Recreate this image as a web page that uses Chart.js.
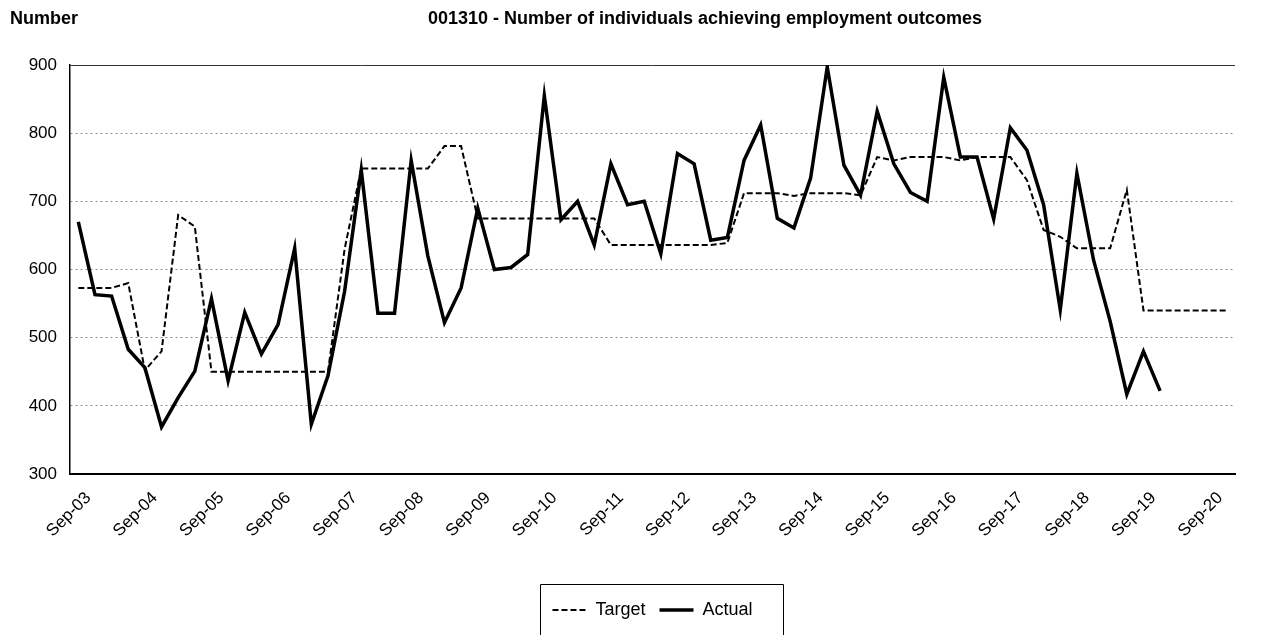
<!DOCTYPE html>
<html>
<head>
<meta charset="utf-8">
<title>001310 - Number of individuals achieving employment outcomes</title>
<script src="https://cdn.jsdelivr.net/npm/chart.js@4.4.1/dist/chart.umd.min.js"></script>
<style>
    html, body { margin: 0; padding: 0; background: #fff; }
    #wrap { width: 1263px; height: 635px; position: relative; overflow: hidden; }
</style>
</head>
<body>
<div id="wrap"><canvas id="chart" width="1263" height="635"></canvas></div>
<script>
// quarterly categories, Sep-03 .. Dec-20
const quarters = [
    'Sep-03', 'Dec-03', 'Mar-04', 'Jun-04', 'Sep-04', 'Dec-04', 'Mar-05', 'Jun-05',
    'Sep-05', 'Dec-05', 'Mar-06', 'Jun-06', 'Sep-06', 'Dec-06', 'Mar-07', 'Jun-07',
    'Sep-07', 'Dec-07', 'Mar-08', 'Jun-08', 'Sep-08', 'Dec-08', 'Mar-09', 'Jun-09',
    'Sep-09', 'Dec-09', 'Mar-10', 'Jun-10', 'Sep-10', 'Dec-10', 'Mar-11', 'Jun-11',
    'Sep-11', 'Dec-11', 'Mar-12', 'Jun-12', 'Sep-12', 'Dec-12', 'Mar-13', 'Jun-13',
    'Sep-13', 'Dec-13', 'Mar-14', 'Jun-14', 'Sep-14', 'Dec-14', 'Mar-15', 'Jun-15',
    'Sep-15', 'Dec-15', 'Mar-16', 'Jun-16', 'Sep-16', 'Dec-16', 'Mar-17', 'Jun-17',
    'Sep-17', 'Dec-17', 'Mar-18', 'Jun-18', 'Sep-18', 'Dec-18', 'Mar-19', 'Jun-19',
    'Sep-19', 'Dec-19', 'Mar-20', 'Jun-20', 'Sep-20', 'Dec-20'
];

const targetValues = [
    573, 573, 573, 580, 452, 480, 680, 663,
    450, 450, 450, 450, 450, 450, 450, 450,
    630, 748, 748, 748, 748, 748, 781, 781,
    675, 675, 675, 675, 675, 675, 675, 675,
    636, 636, 636, 636, 636, 636, 636, 639,
    712, 712, 712, 708, 712, 712, 712, 709,
    765, 760, 765, 765, 765, 760, 765, 765,
    765, 731, 658, 648, 631, 631, 631, 717,
    540, 540, 540, 540, 540, 540
];

const actualValues = [
    670, 563, 561, 483, 456, 369, 412, 451,
    557, 437, 537, 476, 519, 631, 373, 444,
    568, 746, 536, 536, 760, 620, 522, 573,
    690, 600, 603, 622, 855, 673, 700, 636,
    755, 695, 700, 623, 770, 755, 643, 647,
    760, 812, 675, 661, 734, 897, 753, 709,
    832, 755, 713, 700, 882, 765, 765, 674,
    808, 775, 695, 541, 741, 614, 524, 417,
    480, 422, null, null, null, null
];

const yTicks = [300, 400, 500, 600, 700, 800, 900];
const leftTitle = 'Number';
const mainTitle = '001310 - Number of individuals achieving employment outcomes';

(function () {
    'use strict';

    const FONT = "'Liberation Sans', Arial, sans-serif";
    Chart.defaults.font.family = FONT;
    Chart.defaults.color = '#000';

    // titles drawn straight onto the canvas (left label + off-centre heading)
    const titlesPlugin = {
        id: 'titles',
        afterDraw: function (chart) {
            const ctx = chart.ctx;
            ctx.save();
            ctx.fillStyle = '#000';
            ctx.font = 'bold 18px ' + FONT;
            ctx.textBaseline = 'middle';
            ctx.textAlign = 'left';
            ctx.fillText(leftTitle, 10, 19);
            ctx.textAlign = 'center';
            ctx.fillText(mainTitle, 705, 19);
            ctx.restore();
        }
    };

    // box round the legend, open at the bottom like the original
    const legendFrame = {
        id: 'legendFrame',
        afterDraw: function (chart) {
            const hb = chart.legend && chart.legend.legendHitBoxes;
            if (!hb || !hb.length) return;
            const first = hb[0];
            const last = hb[hb.length - 1];
            const ctx = chart.ctx;
            const left = Math.round(first.left - 12) + 0.5;
            const right = Math.round(last.left + last.width + 30) + 0.5;
            const top = Math.round(first.top + first.height / 2 - 26) + 0.5;
            ctx.save();
            ctx.strokeStyle = '#000';
            ctx.lineWidth = 1;
            ctx.beginPath();
            ctx.moveTo(left, chart.height + 2);
            ctx.lineTo(left, top);
            ctx.lineTo(right, top);
            ctx.lineTo(right, chart.height + 2);
            ctx.stroke();
            ctx.restore();
        }
    };

    // default legend items, but keep each dataset's dash and width on the sample line
    function legendLabels(chart) {
        const items = Chart.defaults.plugins.legend.labels.generateLabels(chart);
        items.forEach(function (it) {
            const ds = chart.data.datasets[it.datasetIndex];
            it.lineDash = ds.borderDash || [];
            it.lineWidth = ds.borderWidth;
            it.strokeStyle = ds.borderColor;
        });
        return items;
    }

    new Chart(document.getElementById('chart'), {
        type: 'line',
        data: {
            labels: quarters,
            datasets: [{
                label: 'Target',
                data: targetValues,
                borderColor: '#000',
                backgroundColor: '#000',
                borderWidth: 2,
                borderDash: [6, 3],
                pointRadius: 0,
                tension: 0,
                fill: false
            }, {
                label: 'Actual',
                data: actualValues,
                borderColor: '#000',
                backgroundColor: '#000',
                borderWidth: 3.5,
                pointRadius: 0,
                tension: 0,
                fill: false,
                spanGaps: false
            }]
        },
        options: {
            responsive: false,
            animation: false,
            layout: { padding: { top: 65, left: 0, right: 28, bottom: 6 } },
            plugins: {
                title: { display: false },
                tooltip: { enabled: false },
                legend: {
                    position: 'bottom',
                    fullSize: false,
                    labels: {
                        usePointStyle: true,
                        pointStyle: 'line',
                        pointStyleWidth: 34,
                        boxHeight: 12,
                        padding: 14,
                        font: { size: 18 },
                        generateLabels: legendLabels
                    }
                }
            },
            scales: {
                x: {
                    offset: true,
                    grid: { display: false, drawTicks: false },
                    border: { display: true, color: '#000', width: 2 },
                    ticks: {
                        autoSkip: false,
                        maxRotation: 45,
                        minRotation: 45,
                        padding: 14,
                        labelOffset: 10,
                        font: { size: 17 },
                        callback: function (val, i) {
                            return i % 4 === 0 ? quarters[i] : '';
                        }
                    },
                    afterFit: function (scale) { scale.height = 113; }
                },
                y: {
                    min: yTicks[0],
                    max: yTicks[yTicks.length - 1],
                    afterBuildTicks: function (scale) {
                        scale.ticks = yTicks.map(function (v) { return { value: v }; });
                    },
                    grid: {
                        drawTicks: false,
                        color: function (c) { return c.tick && c.tick.value === 900 ? '#333' : '#8a8a8a'; },
                        lineWidth: 1
                    },
                    border: {
                        display: true,
                        color: '#000',
                        width: 1.5,
                        dash: function (c) { return c.tick && c.tick.value === 900 ? [] : [2, 3]; }
                    },
                    ticks: {
                        padding: 13,
                        font: { size: 17 }
                    },
                    afterFit: function (scale) { scale.width = 70; }
                }
            }
        },
        plugins: [titlesPlugin, legendFrame]
    });
})();
</script>
</body>
</html>
